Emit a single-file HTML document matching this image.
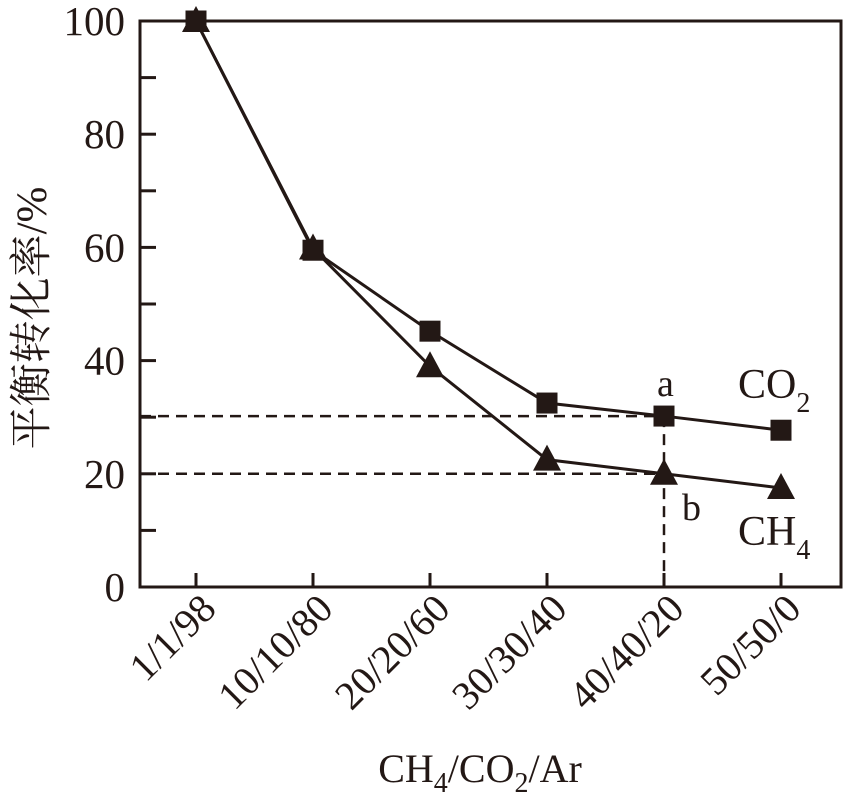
<!DOCTYPE html>
<html><head><meta charset="utf-8"><style>
body{margin:0;background:#fff}
text{font-family:"Liberation Serif","Noto Serif CJK SC",serif;fill:#231815}
</style></head><body>
<svg width="850" height="803" viewBox="0 0 850 803">
<g id="g"></g>
<g>
<text x="657" y="396" font-size="38">a</text>
<text x="682" y="520" font-size="38">b</text>
<text x="738" y="398" font-size="42">CO<tspan font-size="28" dy="14">2</tspan></text>
<text x="738" y="545" font-size="42">CH<tspan font-size="28" dy="14">4</tspan></text>
<text x="480" y="782" font-size="40" text-anchor="middle">CH<tspan font-size="28" dy="10">4</tspan><tspan dy="-10">/CO</tspan><tspan font-size="28" dy="10">2</tspan><tspan dy="-10">/Ar</tspan></text>
<text transform="translate(46,318) rotate(-90)" font-size="43" text-anchor="middle">平衡转化率/%</text>
</g>
</svg>
<script>
const categories=["1/1/98","10/10/80","20/20/60","30/30/40","40/40/20","50/50/0"];
const co2=[100,59.5,45.2,32.5,30.2,27.7];
const ch4=[100,59.8,39,22.5,20,17.5];
const yTicks=[0,20,40,60,80,100];
const L=140,R=841,T=21,B=587;
const x=i=>196+i*117;
const y=v=>B-(v/100)*(B-T);
const g=document.getElementById('g');const NS='http://www.w3.org/2000/svg';
function mk(t,a,txt){const e=document.createElementNS(NS,t);for(const k in a)e.setAttribute(k,a[k]);if(txt!==undefined)e.textContent=txt;g.appendChild(e);return e;}
const C='#231815';
let e;
e=mk('rect',{x:L,y:T,width:R-L,height:B-T,fill:'none',stroke:C,'stroke-width':3});


for(const v of [10,20,30,40,50,60,70,80,90]){e=mk('line',{x1:L,x2:L+16,y1:y(v),y2:y(v),stroke:C,'stroke-width':3});

}
for(const v of yTicks){e=mk('text',{x:125,y:y(v)+14,'text-anchor':'end','font-size':41},String(v));

}
categories.forEach((c,i)=>{e=mk('line',{x1:x(i),x2:x(i),y1:B,y2:B-14,stroke:C,'stroke-width':3});


e=mk('text',{x:0,y:0,'text-anchor':'end','font-size':40,transform:`translate(${x(i)+22},${B+24}) rotate(-45)`},c);

});
const k=4;
e=mk('line',{x1:L,x2:x(k),y1:y(co2[k]),y2:y(co2[k]),stroke:C,'stroke-width':2.5,'stroke-dasharray':'11 7'});


e=mk('line',{x1:L,x2:x(k),y1:y(ch4[k]),y2:y(ch4[k]),stroke:C,'stroke-width':2.5,'stroke-dasharray':'11 7'});


e=mk('line',{x1:x(k),x2:x(k),y1:y(co2[k]),y2:B,stroke:C,'stroke-width':2.5,'stroke-dasharray':'11 7'});


function series(d,name,marker){
 e=mk('polyline',{points:d.map((v,i)=>x(i)+','+y(v)).join(' '),fill:'none',stroke:C,'stroke-width':3});
 
 
 d.forEach((v,i)=>{const cx=x(i),cy=y(v);
  if(marker==='sq'){e=mk('rect',{x:cx-10.5,y:cy-10.5,width:21,height:21,fill:C});}
  else{e=mk('polygon',{points:`${cx},${cy-15} ${cx-14},${cy+11} ${cx+14},${cy+11}`,fill:C});}
  
  });
}
series(ch4,'ch4','tri');
series(co2,'co2','sq');
</script>
</body></html>
